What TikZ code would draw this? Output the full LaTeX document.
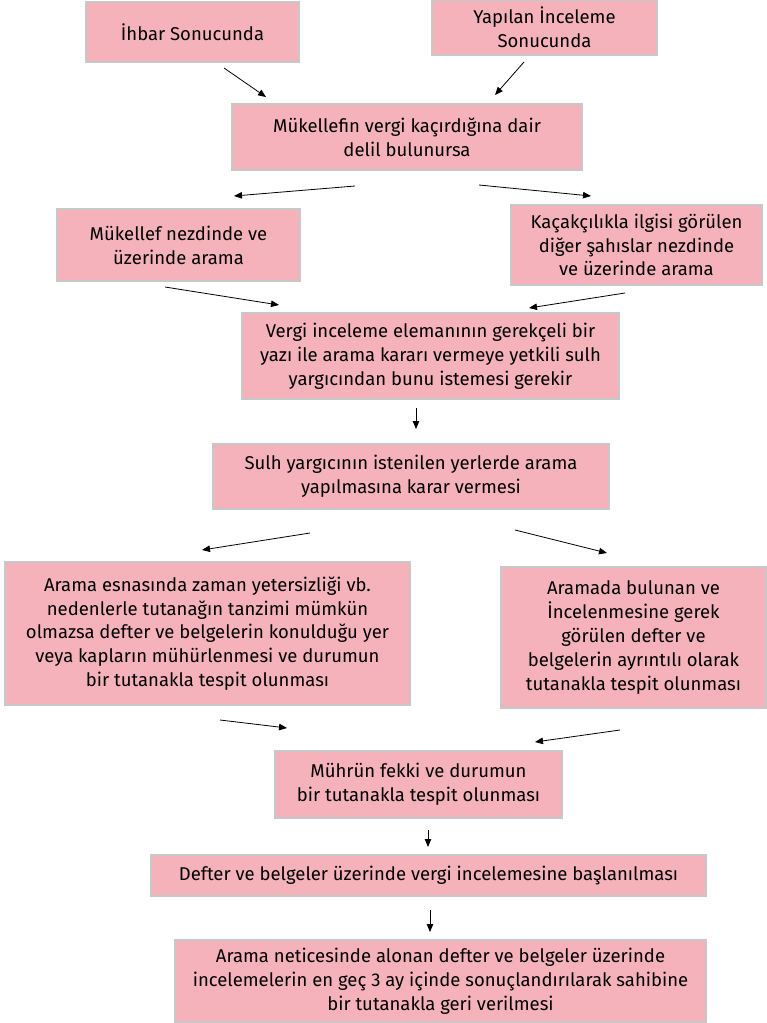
\documentclass[tikz,border=0pt]{standalone}
\usepackage{fontspec}
\setmainfont{Fira Sans}
\usetikzlibrary{arrows.meta}
\definecolor{boxpink}{RGB}{245,178,186}
\definecolor{boxline}{RGB}{200,200,200}
\tikzset{
  stepbox/.style={draw=boxline, line width=1.3pt, fill=boxpink, align=center,
    inner sep=0pt, font=\fontsize{18.5}{23.8}\selectfont},
  flow/.style={-{Triangle[length=8pt,width=6.5pt]}, line width=0.8pt}
}
\begin{document}
\begin{tikzpicture}[x=1pt,y=-1pt]
      \useasboundingbox (0,0) rectangle (766,1023);
      \path
        (192.5,32) node[stepbox, minimum width=213, minimum height=60] (ihbar){İhbar Sonucunda}
        (544.5,27.5) node[stepbox, minimum width=225, minimum height=55] (inceleme){Yapılan İnceleme\\Sonucunda}
        (407,137) node[stepbox, minimum width=350, minimum height=66] (delil){Mükellefin vergi kaçırdığına dair\\delil bulunursa}
        (178.5,245) node[stepbox, minimum width=243, minimum height=72] (nezdinde){Mükellef nezdinde ve\\üzerinde arama}
        (636.5,245) node[stepbox, minimum width=251, minimum height=80] (sahislar){Kaçakçılıkla ilgisi görülen\\diğer şahıslar nezdinde\\ve üzerinde arama}
        (430.5,356) node[stepbox, minimum width=377, minimum height=86] (istem){Vergi inceleme elemanının gerekçeli bir\\yazı ile arama kararı vermeye yetkili sulh\\yargıcından bunu istemesi gerekir}
        (411,476.5) node[stepbox, minimum width=396, minimum height=65] (karar){Sulh yargıcının istenilen yerlerde arama\\yapılmasına karar vermesi}
        (207.5,633.5) node[stepbox, minimum width=405, minimum height=143] (muhur){Arama esnasında zaman yetersizliği vb.\\nedenlerle tutanağın tanzimi mümkün\\olmazsa defter ve belgelerin konulduğu yer\\veya kapların mühürlenmesi ve durumun\\bir tutanakla tespit olunması}
        (633.5,637.5) node[stepbox, minimum width=265, minimum height=141] (ayrinti){Aramada bulunan ve\\İncelenmesine gerek\\görülen defter ve\\belgelerin ayrıntılı olarak\\tutanakla tespit olunması}
        (418.5,784.5) node[stepbox, minimum width=287, minimum height=67] (fek){Mührün fekki ve durumun\\bir tutanakla tespit olunması}
        (428.5,875.5) node[stepbox, minimum width=555, minimum height=41] (baslama){Defter ve belgeler üzerinde vergi incelemesine başlanılması}
        (440.5,981) node[stepbox, minimum width=531, minimum height=82] (iade){Arama neticesinde alonan defter ve belgeler üzerinde\\incelemelerin en geç 3 ay içinde sonuçlandırılarak sahibine\\bir tutanakla geri verilmesi};
      \path
        (224,68) coordinate (a1) (266,97) coordinate (b1)
        (524,62) coordinate (a2) (495,95) coordinate (b2)
        (355,186) coordinate (a3) (234,196) coordinate (b3)
        (479,185) coordinate (a4) (591,196) coordinate (b4)
        (165,287) coordinate (a5) (279,305) coordinate (b5)
        (625,293) coordinate (a6) (529,308) coordinate (b6)
        (416,408) coordinate (a7) (416,429) coordinate (b7)
        (310,533) coordinate (a8) (202,550) coordinate (b8)
        (515,530) coordinate (a9) (607,553) coordinate (b9)
        (220,720) coordinate (a10) (287,728) coordinate (b10)
        (620,730) coordinate (a11) (535,742) coordinate (b11)
        (428,830) coordinate (a12) (428,847) coordinate (b12)
        (430,910) coordinate (a13) (430,932) coordinate (b13);
      \begin{scope}[flow]
        \foreach \i in {1,...,13}
          \draw (a\i) to (b\i);
      \end{scope}
    \end{tikzpicture}
\end{document}
